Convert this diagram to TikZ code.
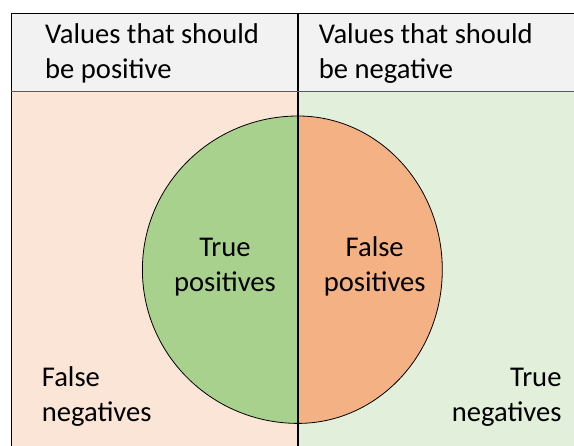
\documentclass[tikz,border=0pt]{standalone}
\usepackage{fontspec}
\setmainfont{Carlito}
\usepackage{tikz}
\usetikzlibrary{calc}

\definecolor{fnpeach}{HTML}{FBE5D6}
\definecolor{tngreen}{HTML}{E2EFDA}
\definecolor{tpgreen}{HTML}{A9D18E}
\definecolor{fporange}{HTML}{F4B183}
\definecolor{hdrgray}{HTML}{F2F2F2}

\tikzset{
  lbl/.style={font=\fontsize{28.6}{35}\selectfont, inner sep=0pt, text=black},
  edge/.style={line width=1.1pt, black}
}

\begin{document}
\begin{tikzpicture}[x=1pt, y=-1pt]
            \useasboundingbox (0,0) rectangle (574,446);
            \coordinate (tl) at (11.3,13.3);
            \coordinate (tm) at (298,13.3);
            \coordinate (tr) at (574,13.3);
            \coordinate (hl) at (11.3,91.5);
            \coordinate (hm) at (298,91.5);
            \coordinate (hr) at (574,91.5);
            \coordinate (bl) at (11.3,446);
            \coordinate (bm) at (298,446);
            \coordinate (br) at (574,446);
            \coordinate (ctop) at (298,116);

            \fill[hdrgray] (tl) rectangle (hr);
            \fill[fnpeach] (hl) rectangle (bm);
            \fill[tngreen] (hm) rectangle (br);

            \filldraw[fill=tpgreen, draw=black, line width=.8pt] (ctop) arc[start angle=270, end angle=90, x radius=155.6, y radius=153.7] -- cycle;
            \filldraw[fill=fporange, draw=black, line width=.8pt] (ctop) arc[start angle=-90, end angle=90, x radius=144.3, y radius=153.7] -- cycle;

            \draw[edge] (tl) -- (tr);
            \draw[edge] (tl) -- (bl);
            \draw[edge] (tm) -- (bm);
            \draw[line width=1.5pt, black!65] (hl) -- (hr);

            \node[lbl, anchor=base west, align=left] (pos) at (45,78.3) {Values that should\\be positive};
            \node[lbl, anchor=base west, align=left] (neg) at (318.7,78.3) {Values that should\\be negative};
            \node[lbl, anchor=base, align=center] (tp) at (225,291.7) {True\\positives};
            \node[lbl, anchor=base, align=center] (fp) at (374.7,291.7) {False\\positives};
            \node[lbl, anchor=base west, align=left] (fn) at (41.7,422) {False\\negatives};
            \node[lbl, anchor=base east, align=right] (tn) at (561.7,421.5) {True\\negatives};
        \end{tikzpicture}
\end{document}
